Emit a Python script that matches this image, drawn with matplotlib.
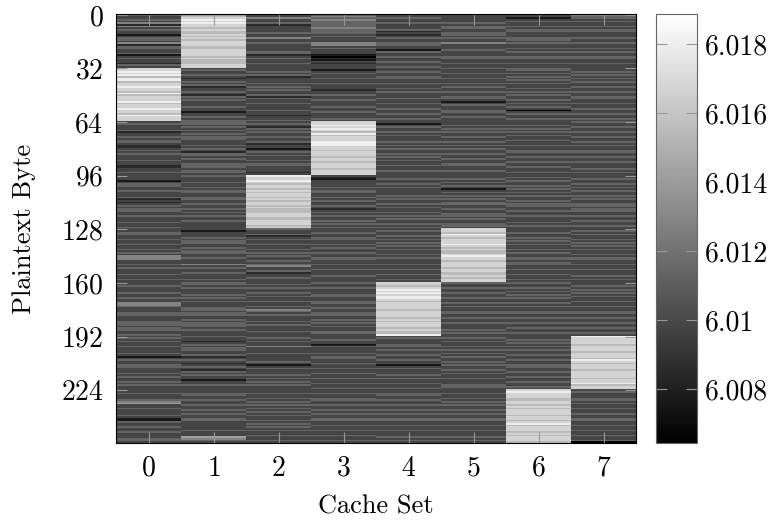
import numpy as np
import matplotlib
matplotlib.use("Agg")
import matplotlib.pyplot as plt

plt.rcParams["font.family"] = "cmr10"
plt.rcParams["axes.formatter.use_mathtext"] = True

# gray level per plaintext byte, one digit per row (0 = darkest, 9 = brightest),
# read off the picture column by column, 32 rows per string
col0 = ["43343525 34331344 35244334 13433243",
        "88989799 78898879 78889788 98879888",
        "34333423 34344322 34343334 33223343",
        "33313443 34333423 23434433 43334334",
        "33443343 34334343 55533434 33343343",
        "33433343 34335543 33443334 44344334",
        "34343343 33431343 34433343 43343433",
        "33433345 63343334 31143343 34333443"]
col1 = ["67898988 78778787 88877888 87877788",
        "34334323 43423343 24343334 33133434",
        "44343434 34433343 43244343 34443443",
        "43334334 34433443 34334343 43343333",
        "31333434 43343443 34333534 33433343",
        "44343334 34343334 43443343 44434333",
        "43323434 43342343 23432434 33133433",
        "33443343 34334343 34433333 43336543"]
col2 = ["33533423 33343353 34333344 23433433",
        "33434233 34343433 42433433 34332334",
        "34324343 34334233 13434334 34433323",
        "98898788 78788787 88787778 87788878",
        "43342343 34334343 43343453 34233433",
        "34343343 43343343 54343334 34333433",
        "34343353 33433334 31343334 34343433",
        "33433434 34343434 33434343 43343343"]
col3 = ["45454444 54443433 35534333 10213233",
        "31343343 34333233 43343334 33433343",
        "88989879 78889998 87888788 78887888",
        "32133334 34433434 33432343 43343434",
        "33433443 34343343 34433433 43334333",
        "43343334 43344334 33443343 43433443",
        "33433143 33434433 43343343 34334334",
        "33433443 34334343 34433433 43343343"]
col4 = ["33433433 34232343 34433143 34334334",
        "33433443 34334343 33433433 43343343",
        "31343343 43334343 43343434 33433433",
        "33433434 33334343 34343343 43433434",
        "34334343 43434334 34333433 43343343",
        "88789898 99878888 78888787 88878779",
        "34333443 43343343 31343334 34334334",
        "33443343 34334343 34433433 43334343"]
col5 = ["33333434 43344343 35333433 34433433",
        "43343343 34343343 34431343 34433433",
        "33434343 34334343 43343343 34433433",
        "33434343 13434343 44334334 43433443",
        "88798788 89878778 98878887 88778788",
        "43343343 34334343 34433433 43334343",
        "34343343 43434334 34334343 34333443",
        "33433434 34334343 34433433 43334343"]
col6 = ["33134334 34433344 34334343 34433433",
        "44343434 34334343 43343434 30343343",
        "33434343 43343343 34433433 43343343",
        "34343343 43434334 34433433 43334343",
        "33433434 34334343 34434433 43343343",
        "43343434 34334343 34433433 43343343",
        "33434343 43343343 34433433 43343343",
        "89888778 87878887 88789788 87878887"]
col7 = ["54434334 34433343 34334343 34433433",
        "33434343 43343343 34433433 43343343",
        "43343343 34334343 34433433 43334343",
        "33433434 34334343 34434433 43343343",
        "34343343 43434334 34433433 43334343",
        "33434343 43343343 34433433 43343343",
        "98888788 87888798 78887888 87889788",
        "34333443 43343343 34433433 43343340"]

# value of each gray digit
levels = [6.0065, 6.0076, 6.0085, 6.0098, 6.0113,
          6.0128, 6.0142, 6.0155, 6.0167, 6.0180]

cache_sets = [0, 1, 2, 3, 4, 5, 6, 7]
byte_ticks = [0, 32, 64, 96, 128, 160, 192, 224]
cbar_ticks = [6.008, 6.010, 6.012, 6.014, 6.016, 6.018]
cbar_labels = ["6.008", "6.01", "6.012", "6.014", "6.016", "6.018"]
vmin, vmax = 6.00643, 6.01887


def decode(blocks):
    digits = "".join(blocks).replace(" ", "")
    assert len(digits) == 256, len(digits)
    return [levels[int(d)] for d in digits]


data = np.array([decode(c) for c in [col0, col1, col2, col3,
                                      col4, col5, col6, col7]]).T

fig = plt.figure(figsize=(7.81, 5.2), dpi=100)
ax = fig.add_axes([116 / 781, 1 - 443 / 520, 520 / 781, 429 / 520])
cax = fig.add_axes([656 / 781, 1 - 443 / 520, 41 / 781, 429 / 520])

im = ax.imshow(data, cmap="gray", vmin=vmin, vmax=vmax, aspect="auto",
               interpolation="nearest")
ax.set_xticks(cache_sets)
ax.set_yticks(byte_ticks)
ax.tick_params(direction="in", length=8, width=0.8, color="0.6",
               top=True, right=True, labelsize=20, pad=9)
ax.set_xlabel("Cache Set", fontsize=19, labelpad=9)
ax.set_ylabel("Plaintext Byte", fontsize=19, labelpad=18)

cb = fig.colorbar(im, cax=cax)
cb.set_ticks(cbar_ticks)
cb.set_ticklabels(cbar_labels)
cax.tick_params(direction="in", length=8, width=0.8, color="0.6",
                left=True, right=True, labelsize=20, pad=6)
cb.outline.set_edgecolor("0.4")

fig.savefig("out.png", dpi=100)
